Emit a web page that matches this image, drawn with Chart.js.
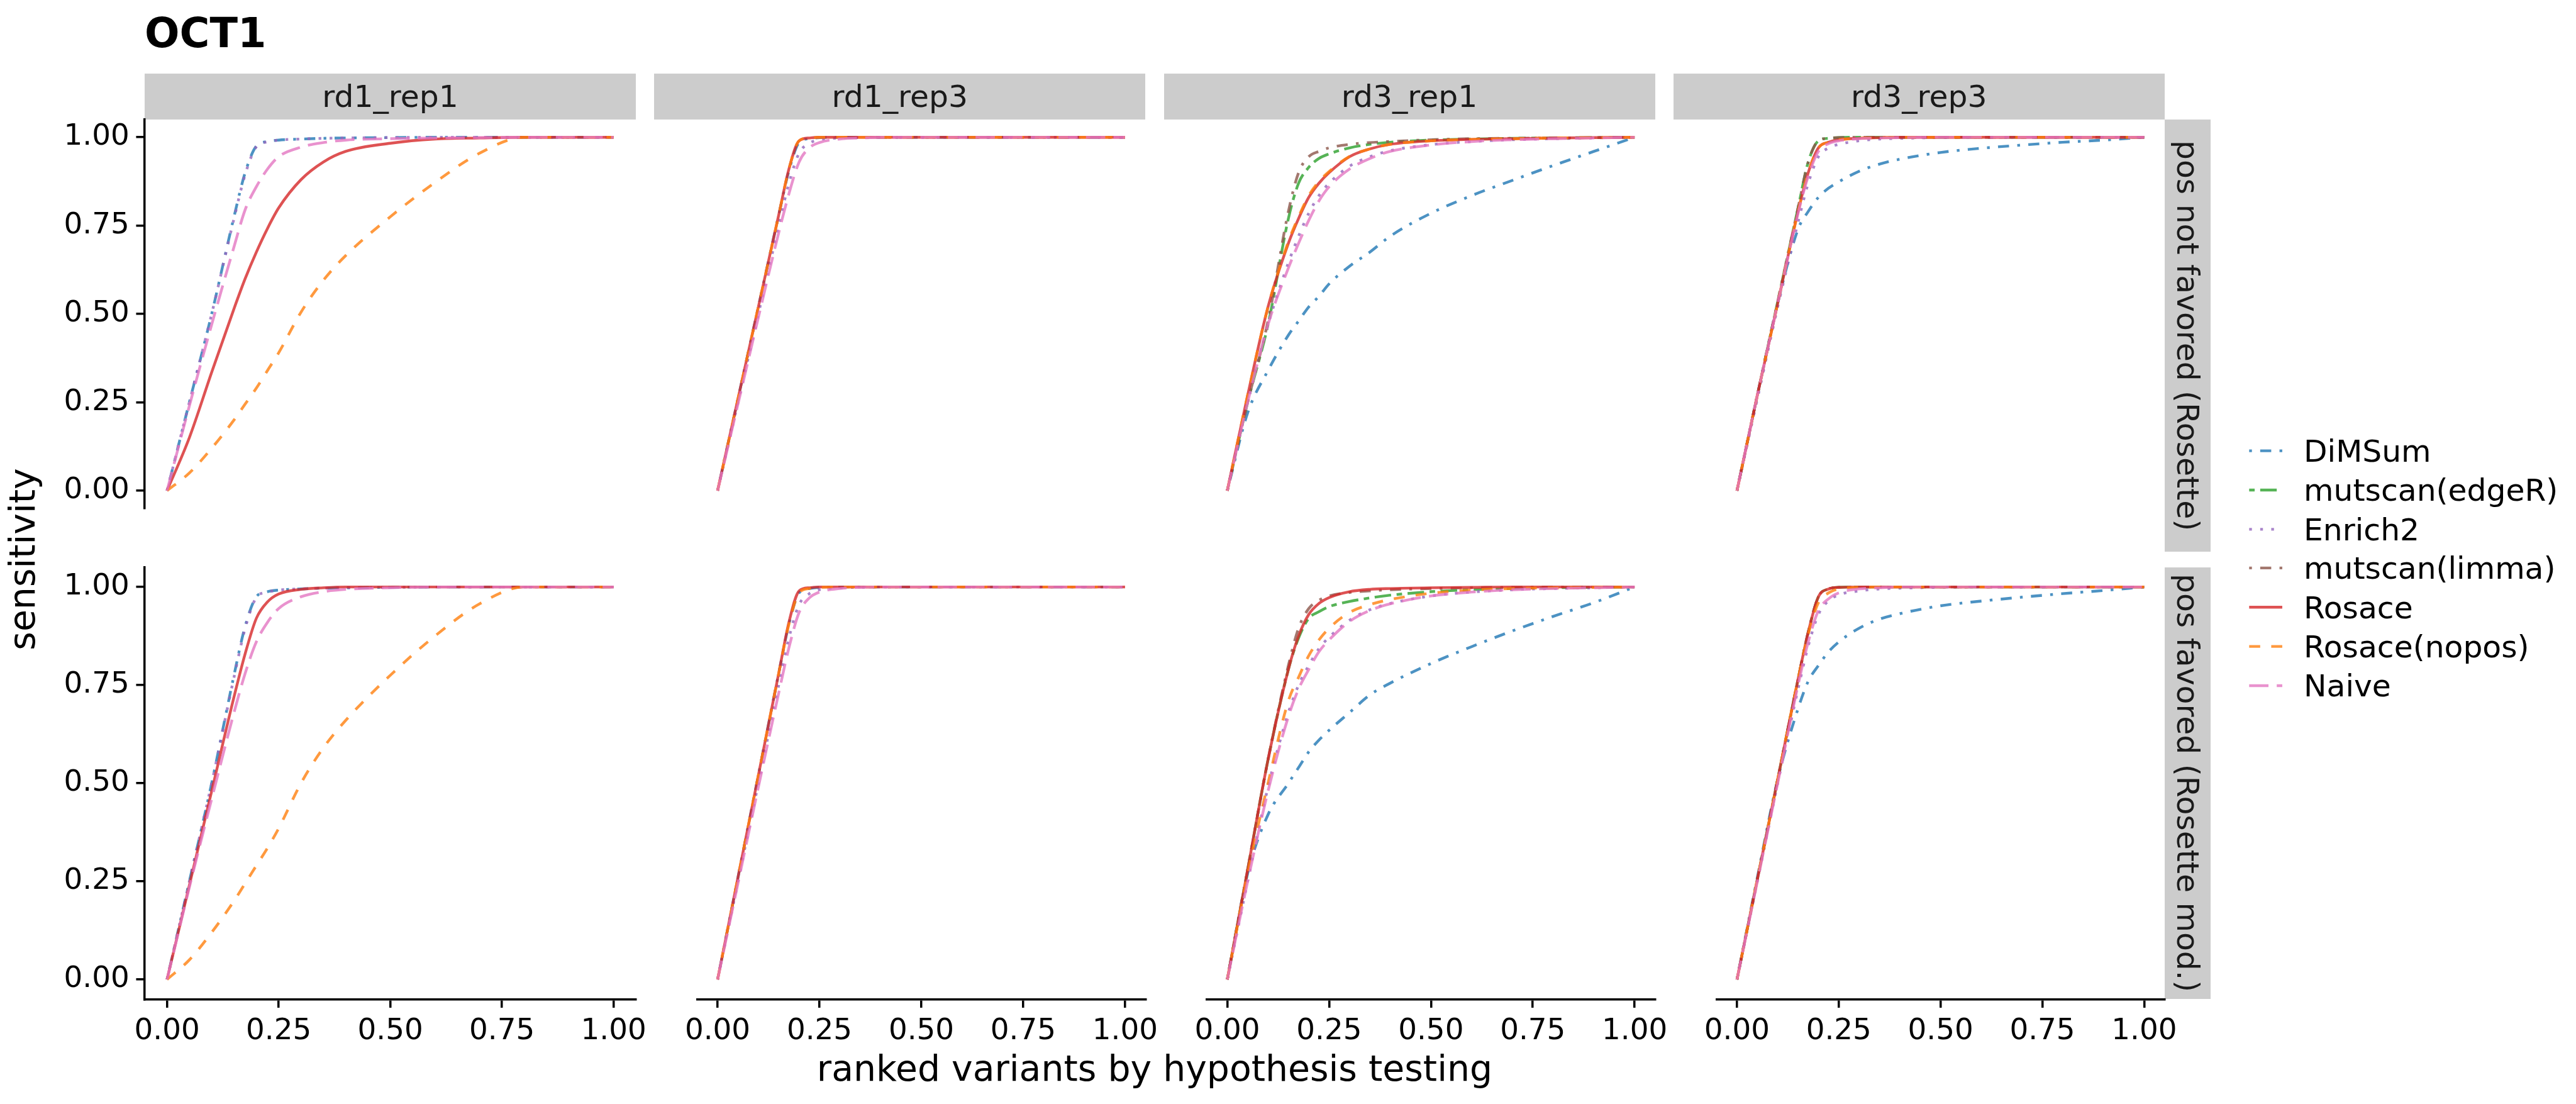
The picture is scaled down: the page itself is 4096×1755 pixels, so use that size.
<!DOCTYPE html>
<html><head><meta charset="utf-8">
<script src="https://cdn.jsdelivr.net/npm/chart.js@4.4.0/dist/chart.umd.min.js"></script>
<style>
html,body{margin:0;padding:0;background:#fff;}
#root{position:relative;width:4096px;height:1755px;overflow:hidden;font-family:"DejaVu Sans",sans-serif;background:#fff;}
.t{position:absolute;line-height:1;white-space:nowrap;}
.strip{position:absolute;background:#CCCCCC;color:#1A1A1A;display:flex;align-items:center;justify-content:center;white-space:nowrap;line-height:1;}
canvas{position:absolute;}
</style></head><body><div id="root"></div>
<script>
const S = 0.975;
const methods = ["DiMSum","mutscan(edgeR)","Enrich2","mutscan(limma)","Rosace","Rosace(nopos)","Naive"];
const colors = ["#1f77b4","#2ca02c","#9467bd","#8c564b","#d62728","#ff7f0e","#e377c2"];
const dashUnits = [[1,3,4,3],[2,2,6,2],[1,3],[1,3,4,3],[],[4,4],[7,3]];
const colLabels = ["rd1_rep1","rd1_rep3","rd3_rep1","rd3_rep3"];
const rowLabels = ["pos not favored (Rosette)","pos favored (Rosette mod.)"];
const xTicks = [0,0.25,0.5,0.75,1];
const yTicks = [0,0.25,0.5,0.75,1];
const xGrid = [0,0.05,0.1,0.15,0.175,0.2,0.225,0.25,0.3,0.35,0.4,0.5,0.6,0.7,0.8,0.9,1];

// rd1_rep1, pos not favored
const r1c1_DiMSum  = [0,.25,.50,.775,.90,.975,.988,.992,.995,.997,.998,.999,1,1,1,1,1];
const r1c1_Enrich2 = [0,.25,.50,.77,.895,.973,.987,.992,.995,.997,.998,.999,1,1,1,1,1];
const r1c1_Rosace  = [0,.15,.335,.515,.60,.675,.742,.80,.88,.93,.96,.983,.995,.998,1,1,1];
const r1c1_nopos   = [0,.05,.12,.20,.245,.29,.34,.39,.505,.595,.665,.775,.872,.955,1,1,1];
const r1c1_Naive   = [0,.24,.47,.69,.795,.86,.91,.945,.972,.985,.992,.996,.998,.999,1,1,1];
// rd1_rep1, pos favored
const r2c1_DiMSum  = [0,.25,.50,.775,.90,.975,.988,.992,.995,.997,.998,.999,1,1,1,1,1];
const r2c1_Enrich2 = [0,.25,.50,.77,.895,.973,.987,.992,.995,.997,.998,.999,1,1,1,1,1];
const r2c1_Rosace  = [0,.24,.48,.72,.83,.92,.962,.982,.994,.998,1,1,1,1,1,1,1];
const r2c1_nopos   = [0,.05,.12,.20,.245,.29,.335,.385,.50,.59,.66,.775,.875,.957,1,1,1];
const r2c1_Naive   = [0,.235,.46,.68,.78,.86,.91,.945,.975,.988,.994,.998,1,1,1,1,1];
// rd1_rep3, pos not favored
const r1c2_DiMSum  = [0,.26,.52,.78,.905,.985,.996,.999,1,1,1,1,1,1,1,1,1];
const r1c2_Enrich2 = [0,.25,.50,.75,.87,.955,.983,.993,.998,.999,1,1,1,1,1,1,1];
const r1c2_Rosace  = [0,.26,.52,.78,.91,.99,.998,1,1,1,1,1,1,1,1,1,1];
const r1c2_nopos   = [0,.26,.52,.78,.91,.99,.998,1,1,1,1,1,1,1,1,1,1];
const r1c2_Naive   = [0,.245,.49,.73,.84,.93,.97,.985,.995,.998,1,1,1,1,1,1,1];
// rd1_rep3, pos favored
const r2c2_DiMSum  = [0,.26,.52,.78,.905,.985,.996,.999,1,1,1,1,1,1,1,1,1];
const r2c2_Enrich2 = [0,.25,.50,.75,.87,.955,.983,.993,.998,.999,1,1,1,1,1,1,1];
const r2c2_Rosace  = [0,.26,.52,.78,.91,.99,.998,1,1,1,1,1,1,1,1,1,1];
const r2c2_nopos   = [0,.26,.52,.78,.905,.985,.996,.999,1,1,1,1,1,1,1,1,1];
const r2c2_Naive   = [0,.245,.49,.73,.845,.935,.972,.987,.996,.999,1,1,1,1,1,1,1];
// rd3_rep1, pos not favored
const r1c3_DiMSum  = [0,.22,.34,.44,.48,.52,.55,.585,.635,.675,.72,.785,.835,.878,.92,.96,1];
const r1c3_edgeR   = [0,.25,.47,.77,.87,.915,.94,.953,.97,.98,.986,.992,.995,.997,.998,.999,1];
const r1c3_Enrich2 = [0,.25,.47,.645,.72,.785,.835,.87,.918,.945,.962,.979,.988,.993,.996,.998,1];
const r1c3_limma   = [0,.25,.48,.79,.90,.945,.96,.97,.98,.985,.988,.993,.996,.997,.998,.999,1];
const r1c3_Rosace  = [0,.27,.52,.70,.77,.83,.87,.90,.945,.967,.98,.99,.994,.996,.998,.999,1];
const r1c3_nopos   = [0,.27,.52,.705,.775,.835,.875,.903,.946,.967,.98,.99,.994,.996,.998,.999,1];
const r1c3_Naive   = [0,.25,.47,.63,.70,.765,.82,.86,.91,.94,.96,.978,.988,.993,.996,.998,1];
// rd3_rep1, pos favored
const r2c3_DiMSum  = [0,.27,.42,.50,.54,.58,.61,.635,.68,.725,.755,.805,.848,.888,.925,.96,1];
const r2c3_edgeR   = [0,.28,.56,.79,.87,.92,.937,.95,.963,.972,.979,.988,.993,.996,.998,.999,1];
const r2c3_Enrich2 = [0,.25,.49,.68,.75,.80,.843,.872,.915,.942,.958,.977,.987,.993,.996,.998,1];
const r2c3_limma   = [0,.28,.56,.80,.895,.945,.966,.977,.986,.99,.993,.996,.998,.999,1,1,1];
const r2c3_Rosace  = [0,.28,.56,.79,.875,.93,.958,.973,.988,.994,.996,.998,.999,1,1,1,1];
const r2c3_nopos   = [0,.27,.50,.71,.77,.825,.865,.895,.935,.955,.968,.984,.992,.996,.998,.999,1];
const r2c3_Naive   = [0,.25,.48,.67,.74,.79,.835,.865,.912,.94,.957,.977,.987,.993,.996,.998,1];
// rd3_rep3, pos not favored
const r1c4_DiMSum  = [0,.27,.53,.74,.79,.83,.856,.874,.904,.924,.938,.957,.969,.978,.986,.992,1];
const r1c4_edgeR   = [0,.27,.535,.80,.93,.99,.997,.999,1,1,1,1,1,1,1,1,1];
const r1c4_Enrich2 = [0,.26,.52,.76,.87,.945,.97,.98,.99,.995,.997,.999,1,1,1,1,1];
const r1c4_limma   = [0,.27,.535,.80,.93,.99,.997,.999,1,1,1,1,1,1,1,1,1];
const r1c4_Rosace  = [0,.27,.53,.79,.90,.97,.986,.993,.997,.999,1,1,1,1,1,1,1];
const r1c4_nopos   = [0,.27,.53,.79,.90,.97,.986,.993,.997,.999,1,1,1,1,1,1,1];
const r1c4_Naive   = [0,.27,.53,.785,.89,.96,.982,.99,.996,.998,.999,1,1,1,1,1,1];
// rd3_rep3, pos favored
const r2c4_DiMSum  = [0,.26,.51,.69,.76,.80,.835,.86,.895,.918,.932,.952,.964,.974,.983,.991,1];
const r2c4_edgeR   = [0,.255,.51,.765,.885,.975,.995,.999,1,1,1,1,1,1,1,1,1];
const r2c4_Enrich2 = [0,.25,.50,.74,.85,.93,.965,.98,.99,.995,.997,.999,1,1,1,1,1];
const r2c4_limma   = [0,.255,.51,.765,.885,.975,.995,.999,1,1,1,1,1,1,1,1,1];
const r2c4_Rosace  = [0,.255,.51,.765,.885,.975,.995,.999,1,1,1,1,1,1,1,1,1];
const r2c4_nopos   = [0,.255,.51,.765,.88,.96,.985,.995,.999,1,1,1,1,1,1,1,1];
const r2c4_Naive   = [0,.25,.50,.75,.86,.94,.97,.985,.995,.998,1,1,1,1,1,1,1];

const panels = [
  {col:0,row:0,series:[r1c1_DiMSum,null,r1c1_Enrich2,null,r1c1_Rosace,r1c1_nopos,r1c1_Naive]},
  {col:1,row:0,series:[r1c2_DiMSum,null,r1c2_Enrich2,null,r1c2_Rosace,r1c2_nopos,r1c2_Naive]},
  {col:2,row:0,series:[r1c3_DiMSum,r1c3_edgeR,r1c3_Enrich2,r1c3_limma,r1c3_Rosace,r1c3_nopos,r1c3_Naive]},
  {col:3,row:0,series:[r1c4_DiMSum,r1c4_edgeR,r1c4_Enrich2,r1c4_limma,r1c4_Rosace,r1c4_nopos,r1c4_Naive]},
  {col:0,row:1,series:[r2c1_DiMSum,null,r2c1_Enrich2,null,r2c1_Rosace,r2c1_nopos,r2c1_Naive]},
  {col:1,row:1,series:[r2c2_DiMSum,null,r2c2_Enrich2,null,r2c2_Rosace,r2c2_nopos,r2c2_Naive]},
  {col:2,row:1,series:[r2c3_DiMSum,r2c3_edgeR,r2c3_Enrich2,r2c3_limma,r2c3_Rosace,r2c3_nopos,r2c3_Naive]},
  {col:3,row:1,series:[r2c4_DiMSum,r2c4_edgeR,r2c4_Enrich2,r2c4_limma,r2c4_Rosace,r2c4_nopos,r2c4_Naive]}
];

// ---------- layout (reference pixel units, scaled by S) ----------
const PANEL_L = 236, PANEL_STEP = 831, PANEL_W = 801, PANEL_H = 704;
const ROW_T = [195, 925];
const LW = 4.5 * S;          // data line width
const AXW = 3.6 * S;         // axis line width
const FONT = "'DejaVu Sans', sans-serif";
const root = document.getElementById('root');

function rgba(hex, a){
  const n = parseInt(hex.slice(1),16);
  return `rgba(${(n>>16)&255},${(n>>8)&255},${n&255},${a})`;
}
function addText(txt, x, baseline, size, opts={}){
  const d = document.createElement('div');
  d.className = 't';
  d.textContent = txt;
  d.style.fontSize = (size*S)+'px';
  d.style.left = (x*S)+'px';
  d.style.top = ((baseline - 0.846*size)*S)+'px';
  if (opts.bold) d.style.fontWeight = 'bold';
  d.style.color = opts.color || '#000';
  if (opts.center) d.style.transform = 'translateX(-50%)';
  root.appendChild(d);
  return d;
}

Chart.defaults.font.family = FONT;

function makePanel(p){
  const {col,row,series} = p;
  const pl = PANEL_L + col*PANEL_STEP, pt = ROW_T[row];
  const ML = col===0 ? 236 : 70, MR = 70, MT = 70, MB = row===1 ? 175 : 70;
  const cl = Math.floor((pl-ML)*S), ct = Math.floor((pt-MT)*S);
  const W = Math.ceil((pl+PANEL_W+MR)*S) - cl, H = Math.ceil((pt+PANEL_H+MB)*S) - ct;
  const aL = pl*S - cl, aT = pt*S - ct;
  const aR = W - ((pl+PANEL_W)*S - cl), aB = H - ((pt+PANEL_H)*S - ct);
  const cv = document.createElement('canvas');
  cv.width = W; cv.height = H;
  cv.style.left = cl+'px'; cv.style.top = ct+'px';
  cv.style.width = W+'px'; cv.style.height = H+'px';
  root.appendChild(cv);

  const datasets = [];
  series.forEach((arr,i)=>{
    if (!arr) return;
    datasets.push({
      label: methods[i],
      data: xGrid.map((x,k)=>({x:x, y:arr[k]})),
      borderColor: rgba(colors[i],0.8),
      backgroundColor: rgba(colors[i],0.8),
      borderWidth: LW,
      borderDash: dashUnits[i].map(u=>u*LW),
      borderCapStyle: 'butt',
      borderJoinStyle: 'round',
      pointRadius: 0,
      fill: false,
      cubicInterpolationMode: 'monotone',
      order: methods.length-1-i
    });
  });

  const tickFont = {family: FONT, size: 48*S};
  new Chart(cv, {
    type: 'line',
    data: {datasets},
    options: {
      responsive: false, animation: false, devicePixelRatio: 1, events: [],
      layout: {padding: {left: col===0?0:aL, top: aT, right: aR, bottom: row===1?0:aB}},
      plugins: {legend:{display:false}, tooltip:{enabled:false}, title:{display:false}},
      scales: {
        x: {
          type:'linear', min:-0.05, max:1.05, display: row===1,
          afterBuildTicks: s => { s.ticks = xTicks.map(v=>({value:v})); },
          afterFit: s => { s.height = aB; },
          border: {display:true, color:'#000', width:AXW},
          grid: {display:true, drawOnChartArea:false, drawTicks:true, tickLength:14*S, color:'#000', lineWidth:AXW},
          ticks: {font: tickFont, color:'#000', padding: 10*S, maxRotation:0, minRotation:0, autoSkip:false,
                  callback: v => Number(v).toFixed(2)}
        },
        y: {
          type:'linear', min:-0.05, max:1.05, display: col===0,
          afterBuildTicks: s => { s.ticks = yTicks.map(v=>({value:v})); },
          afterFit: s => { s.width = aL; },
          border: {display:true, color:'#000', width:AXW},
          grid: {display:true, drawOnChartArea:false, drawTicks:true, tickLength:14*S, color:'#000', lineWidth:AXW},
          ticks: {font: tickFont, color:'#000', padding: 11*S, autoSkip:false,
                  callback: v => Number(v).toFixed(2)}
        }
      }
    }
  });
}

// strips
colLabels.forEach((lab,c)=>{
  const d = document.createElement('div');
  d.className = 'strip';
  d.style.left = ((PANEL_L + c*PANEL_STEP)*S)+'px';
  d.style.top = (120*S)+'px';
  d.style.width = (PANEL_W*S)+'px';
  d.style.height = (75*S)+'px';
  d.style.fontSize = (50*S)+'px';
  d.textContent = lab;
  root.appendChild(d);
});
rowLabels.forEach((lab,r)=>{
  const d = document.createElement('div');
  d.className = 'strip';
  d.style.left = (3530*S)+'px';
  d.style.top = (ROW_T[r]*S)+'px';
  d.style.width = (75*S)+'px';
  d.style.height = (PANEL_H*S)+'px';
  d.style.fontSize = (50*S)+'px';
  const sp = document.createElement('span');
  sp.style.writingMode = 'vertical-rl';
  sp.textContent = lab;
  d.appendChild(sp);
  root.appendChild(d);
});

panels.forEach(makePanel);

// titles
addText("OCT1", 236, 77, 67, {bold:true});
addText("ranked variants by hypothesis testing", 1883, 1762, 58.3, {center:true});
const yt = document.createElement('div');
yt.className = 't';
yt.textContent = "sensitivity";
yt.style.fontSize = (58.3*S)+'px';
yt.style.left = (36*S)+'px';
yt.style.top = (912*S)+'px';
yt.style.transform = 'translate(-50%,-50%) rotate(-90deg)';
root.appendChild(yt);

// legend
const legY = [735,799,863,926,990,1054,1118];
const svgNS = "http://www.w3.org/2000/svg";
const svg = document.createElementNS(svgNS,'svg');
svg.setAttribute('width', 4096); svg.setAttribute('height', 1755);
svg.style.position='absolute'; svg.style.left='0'; svg.style.top='0';
methods.forEach((m,i)=>{
  const ln = document.createElementNS(svgNS,'line');
  ln.setAttribute('x1', 3668*S); ln.setAttribute('x2', 3722*S);
  ln.setAttribute('y1', legY[i]*S); ln.setAttribute('y2', legY[i]*S);
  ln.setAttribute('stroke', rgba(colors[i],0.8));
  ln.setAttribute('stroke-width', LW);
  ln.setAttribute('stroke-linecap','butt');
  if (dashUnits[i].length) ln.setAttribute('stroke-dasharray', dashUnits[i].map(u=>u*LW).join(' '));
  svg.appendChild(ln);
  addText(m, 3757, legY[i] + 0.36*50, 50);
});
root.appendChild(svg);
</script></body></html>
